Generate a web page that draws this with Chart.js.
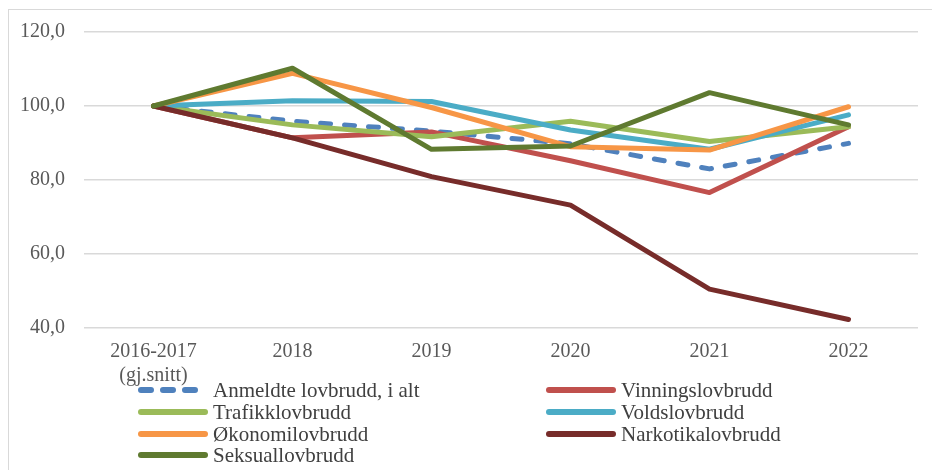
<!DOCTYPE html>
<html>
<head>
<meta charset="utf-8">
<script src="https://cdn.jsdelivr.net/npm/chart.js@4"></script>
<style>
  html, body { margin: 0; padding: 0; background: #fff; }
  #wrap { position: relative; width: 932px; height: 470px; overflow: hidden; }
  #frame { position: absolute; left: 8px; top: 9px; width: 940px; height: 480px;
           border-left: 1.5px solid #d9d9d9; border-top: 1.5px solid #d9d9d9; }
  #chart { position: absolute; left: 0; top: 0; }
  #legend { position: absolute; left: 137px; top: 379px; font-family: "Liberation Serif", serif;
            font-size: 21px; color: #404040; }
  .item { position: absolute; white-space: nowrap; height: 22px; line-height: 22px; }
  .item svg { position: absolute; left: 0; top: 6px; }
  .item span { position: absolute; left: 76px; top: 0; }
</style>
</head>
<body>
<div id="wrap">
  <div id="frame"></div>
  <canvas id="chart" width="932" height="470"></canvas>
  <div id="legend"></div>
</div>
<script>
// kategorier (x-akse)
var categories = [["2016-2017", "(gj.snitt)"], "2018", "2019", "2020", "2021", "2022"];

// indeks, 2016-2017 = 100
var anmeldte   = [100, 95.9, 93.2, 89.8, 83.0, 89.9];
var vinning    = [100, 91.4, 93.0, 85.2, 76.6, 94.4];
var trafikk    = [100, 94.9, 91.7, 95.9, 90.4, 94.4];
var volds      = [100, 101.4, 101.2, 93.5, 88.3, 97.6];
var okonomi    = [100, 108.8, 99.6, 89.0, 88.1, 99.8];
var narkotika  = [100, 91.4, 80.9, 73.2, 50.5, 42.3];
var seksual    = [100, 110.2, 88.3, 89.2, 103.6, 94.9];

var yTicks = [40, 60, 80, 100, 120];

var series = [
  { label: "Anmeldte lovbrudd, i alt", data: anmeldte, color: "#4F81BD", dash: [10, 14] },
  { label: "Vinningslovbrudd", data: vinning, color: "#C0504D" },
  { label: "Trafikklovbrudd", data: trafikk, color: "#9BBB59" },
  { label: "Voldslovbrudd", data: volds, color: "#4BACC6" },
  { label: "Økonomilovbrudd", data: okonomi, color: "#F79646" },
  { label: "Narkotikalovbrudd", data: narkotika, color: "#772C2A" },
  { label: "Seksuallovbrudd", data: seksual, color: "#5F7A30" },
];

var datasets = series.map(function (s, i) {
  return {
    label: s.label,
    data: s.data,
    borderColor: s.color,
    backgroundColor: s.color,
    borderWidth: 5,
    borderDash: s.dash || [],
    borderCapStyle: "round",
    borderJoinStyle: "round",
    pointRadius: 0,
    tension: 0,
    fill: false,
    order: series.length - i, // siste serie øverst, som i Excel
  };
});

var ctx = document.getElementById("chart").getContext("2d");
new Chart(ctx, {
  type: "line",
  data: { labels: categories, datasets: datasets },
  options: {
    responsive: false,
    animation: false,
    layout: { padding: { top: 32, right: 14, left: 0, bottom: 0 } },
    plugins: { legend: { display: false }, tooltip: { enabled: false } },
    scales: {
      x: {
        offset: true,
        grid: { display: false, drawTicks: false },
        border: { display: false },
        ticks: {
          color: "#595959",
          font: { family: "Liberation Serif", size: 20 },
          padding: 12,
          maxRotation: 0,
          autoSkip: false,
        },
        afterFit: function (scale) { scale.height = 142; },
      },
      y: {
        min: 40,
        max: 120,
        afterBuildTicks: function (scale) {
          scale.ticks = yTicks.map(function (v) { return { value: v }; });
        },
        grid: { color: "#d9d9d9", lineWidth: 1.5, drawTicks: false },
        border: { display: false },
        ticks: {
          color: "#595959",
          font: { family: "Liberation Serif", size: 20 },
          padding: 19,
          callback: function (v) { return v.toFixed(1).replace(".", ","); },
        },
        afterFit: function (scale) { scale.width = 84; },
      },
    },
  },
});

// egen forklaring i to kolonner
var legendEl = document.getElementById("legend");
var colX = [0, 408];
var rowH = 21.8;
series.forEach(function (s, i) {
  var item = document.createElement("div");
  item.className = "item";
  item.style.left = colX[i % 2] + "px";
  item.style.top = Math.floor(i / 2) * rowH + "px";
  var dash = s.dash ? 'stroke-dasharray="10 12"' : "";
  item.innerHTML =
    '<svg width="72" height="10"><line x1="4" y1="5" x2="68" y2="5" stroke="' + s.color +
    '" stroke-width="6" stroke-linecap="round" ' + dash + '/></svg><span>' + s.label + "</span>";
  legendEl.appendChild(item);
});
</script>
</body>
</html>
